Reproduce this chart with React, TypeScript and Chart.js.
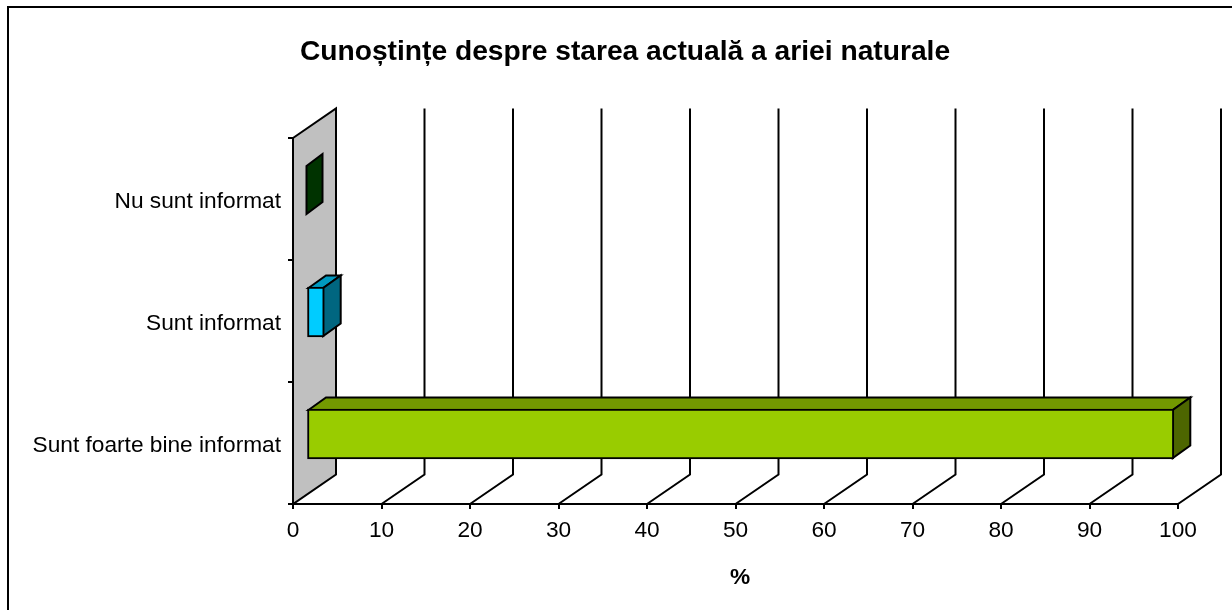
import React, { useEffect, useRef } from "react";
import { Chart, registerables } from "chart.js";

Chart.register(...registerables);

const categories = ["Nu sunt informat", "Sunt informat", "Sunt foarte bine informat"];
const percentValues = [0, 2, 98];
const frontColors = ["#006600", "#00CCFF", "#99CC00"];
const topColors = ["#004D00", "#0099BF", "#739900"];
const sideColors = ["#003300", "#006680", "#4D6600"];
const titleText = "Cunoștințe despre starea actuală a ariei naturale";
const axisTitle = "%";

const FONT = "'Liberation Sans', Arial, sans-serif";
const WALL_DX = 43;
const WALL_DY = 29.5;
const BAR_DX = 13.5;
const BAR_DY = -9;
const DEPTH_DX = 17.5;
const DEPTH_DY = 12.5;
const LINE = 2;
const AXIS_TITLE_SHIFT = 4.5;
const CHART_TITLE_SHIFT = 36;

function poly(ctx: CanvasRenderingContext2D, pts: number[][], fill?: string) {
  ctx.beginPath();
  pts.forEach((p, i) => (i ? ctx.lineTo(p[0], p[1]) : ctx.moveTo(p[0], p[1])));
  ctx.closePath();
  if (fill) {
    ctx.fillStyle = fill;
    ctx.fill();
  }
  ctx.stroke();
}

const threeD = {
  id: "threeD",
  afterLayout(chart: any) {
    if (chart.titleBlock) {
      chart.titleBlock.left += CHART_TITLE_SHIFT;
      chart.titleBlock.right += CHART_TITLE_SHIFT;
    }
  },
  beforeDraw(chart: any) {
    const ctx = chart.ctx;
    ctx.save();
    ctx.fillStyle = "#fff";
    ctx.fillRect(0, 0, chart.width, chart.height);
    ctx.strokeStyle = "#000";
    ctx.lineWidth = 2;
    ctx.beginPath();
    ctx.moveTo(8, chart.height);
    ctx.lineTo(8, 7);
    ctx.lineTo(chart.width, 7);
    ctx.stroke();
    ctx.restore();
  },
  beforeDatasetsDraw(chart: any) {
    const { ctx, chartArea: a, scales } = chart;
    const x = scales.x;
    ctx.save();
    ctx.strokeStyle = "#000";
    ctx.lineWidth = LINE;
    const backTop = a.top - WALL_DY;
    const backBottom = a.bottom - WALL_DY;
    poly(
      ctx,
      [
        [a.left, a.top],
        [a.left + WALL_DX, backTop],
        [a.left + WALL_DX, backBottom],
        [a.left, a.bottom],
      ],
      "#C0C0C0"
    );
    x.ticks.forEach((t: any) => {
      if (t.value === 0) return;
      const px = x.getPixelForValue(t.value);
      ctx.beginPath();
      ctx.moveTo(px, a.bottom);
      ctx.lineTo(px + WALL_DX, backBottom);
      ctx.lineTo(px + WALL_DX, backTop);
      ctx.stroke();
    });
    ctx.restore();
  },
  beforeDatasetDraw(chart: any, args: any) {
    const ctx = chart.ctx;
    ctx.save();
    ctx.translate(BAR_DX, BAR_DY);
    ctx.strokeStyle = "#000";
    ctx.lineWidth = LINE;
    const inset = LINE / 2;
    args.meta.data.forEach((el: any, i: number) => {
      const { x, y, base, height } = el.getProps(["x", "y", "base", "height"], true);
      const t = y - height / 2 + inset;
      const b = y + height / 2 - inset;
      const flat = x <= base;
      const dx = flat ? 16 : DEPTH_DX;
      const dy = flat ? 12 : DEPTH_DY;
      const xl = flat ? base : base + inset;
      const xr = flat ? x : x - inset;
      if (!flat) {
        poly(
          ctx,
          [
            [xl, t],
            [xl + dx, t - dy],
            [xr + dx, t - dy],
            [xr, t],
          ],
          topColors[i]
        );
      }
      poly(
        ctx,
        [
          [xr, t],
          [xr + dx, t - dy],
          [xr + dx, b - dy],
          [xr, b],
        ],
        sideColors[i]
      );
    });
  },
  afterDatasetDraw(chart: any) {
    chart.ctx.restore();
  },
};

export default function App() {
  const ref = useRef<HTMLCanvasElement>(null);
  useEffect(() => {
    const chart = new Chart(ref.current as HTMLCanvasElement, {
      type: "bar",
      data: {
        labels: categories,
        datasets: [
          {
            data: percentValues,
            backgroundColor: frontColors,
            borderColor: "#000",
            borderWidth: LINE,
            borderSkipped: false,
            barThickness: 50,
            clip: false,
          } as any,
        ],
      },
      options: {
        indexAxis: "y",
        animation: false,
        responsive: false,
        layout: { padding: { left: 0, right: 54, top: 0, bottom: 0 } },
        plugins: {
          legend: { display: false },
          tooltip: { enabled: false },
          title: {
            display: true,
            text: titleText,
            color: "#000",
            font: { family: FONT, size: 28.2, weight: "bold", lineHeight: 1.2 },
            padding: { top: 35, bottom: 69.16 },
          },
        },
        scales: {
          x: {
            min: 0,
            max: 100,
            ticks: {
              stepSize: 10,
              color: "#000",
              font: { family: FONT, size: 22.7 },
              padding: 8,
              maxRotation: 0,
            },
            grid: {
              drawOnChartArea: false,
              drawTicks: true,
              tickLength: 5,
              color: "#000",
              lineWidth: LINE,
            },
            border: { display: true, color: "#000", width: LINE },
            title: {
              display: true,
              text: axisTitle,
              color: "#000",
              font: { family: FONT, size: 22.7, weight: "bold" },
              padding: { top: 0, bottom: 19 },
            },
            afterFit(scale: any) {
              scale.height = 106;
              if (!scale.__shifted) {
                scale.__shifted = true;
                const drawTitle = scale.drawTitle;
                scale.drawTitle = function () {
                  this.ctx.save();
                  this.ctx.translate(AXIS_TITLE_SHIFT, 0);
                  drawTitle.call(this);
                  this.ctx.restore();
                };
              }
            },
          },
          y: {
            ticks: {
              color: "#000",
              font: { family: FONT, size: 22.7 },
              padding: 7,
              autoSkip: false,
              labelOffset: 2.5,
            },
            grid: {
              offset: true,
              drawOnChartArea: false,
              drawTicks: true,
              tickLength: 5,
              color: "#000",
              lineWidth: LINE,
            },
            border: { display: true, color: "#000", width: LINE },
            afterFit(scale: any) {
              scale.width = 293;
            },
          },
        },
      },
      plugins: [threeD],
    } as any);
    return () => chart.destroy();
  }, []);
  return (
    <div style={{ position: "absolute", left: 0, top: 0 }}>
      <canvas ref={ref} width={1232} height={610} style={{ display: "block" }} />
    </div>
  );
}
